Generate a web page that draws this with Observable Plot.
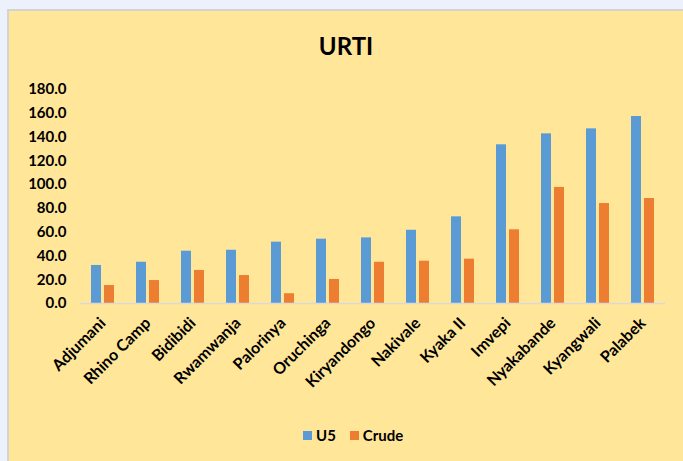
<!DOCTYPE html>
<html>
<head>
<meta charset="utf-8">
<script src="https://cdn.jsdelivr.net/npm/d3@7"></script>
<script src="https://cdn.jsdelivr.net/npm/@observablehq/plot@0.6"></script>
<style>
  html, body { margin: 0; padding: 0; background: #EDF1FB; }
  #wrap { position: absolute; left: 7px; top: 9px; width: 676px; height: 452px;
          background: #FFE699; border-left: 2px solid #D3D3D3; border-top: 2px solid #D3D3D3;
          font-family: Lato, "Open Sans", sans-serif; color: #000; overflow: hidden; }
  #title { position: absolute; left: 0; width: 674px; top: 23px; text-align: center;
           font-size: 24px; font-weight: bold; line-height: 1; }
  #chart { position: absolute; left: 0; top: 59px; }
  #chart [aria-label^="fx-axis"] text { font-size: 16px; }
  #legend { position: absolute; left: 294px; top: 417px; display: flex; align-items: center;
            font-size: 15px; font-weight: bold; line-height: 1; }
  .sw { width: 9px; height: 9px; display: inline-block; margin-right: 4px; }
  .item { display: flex; align-items: center; margin-right: 14px; }
</style>
</head>
<body>
<div id="wrap">
  <div id="title">URTI</div>
  <div id="chart"></div>
  <div id="legend"></div>
</div>
<script>
const categories = ["Adjumani", "Rhino Camp", "Bidibidi", "Rwamwanja", "Palorinya", "Oruchinga",
  "Kiryandongo", "Nakivale", "Kyaka II", "Imvepi", "Nyakabande", "Kyangwali", "Palabek"];
const u5 = [32.0, 34.7, 44.0, 44.8, 51.6, 54.1, 55.2, 61.6, 72.9, 133.5, 142.7, 146.9, 157.3];
const crude = [15.1, 19.3, 27.8, 23.5, 8.2, 20.2, 34.7, 35.6, 37.3, 62.0, 97.6, 84.1, 88.3];
const seriesNames = ["U5", "Crude"];
const seriesColors = ["#5B9BD5", "#ED7D31"];
const yTicks = [0, 20, 40, 60, 80, 100, 120, 140, 160, 180];

const rows = [];
categories.forEach((c, i) => {
  rows.push({site: c, series: "U5", value: u5[i]});
  rows.push({site: c, series: "Crude", value: crude[i]});
});

const chart = Plot.plot({
  width: 674,
  height: 333,
  marginTop: 19,
  marginBottom: 100,
  marginLeft: 66,
  marginRight: 13,
  style: {background: "transparent", fontFamily: "Lato, 'Open Sans', sans-serif", fontSize: "15px", fontWeight: "bold", color: "#000"},
  fx: {domain: categories, paddingInner: 0, paddingOuter: 0, label: null, tickRotate: -45, tickSize: 0, tickPadding: 17, axis: "bottom"},
  x: {domain: seriesNames, paddingInner: 0.222, paddingOuter: 0.806, axis: null},
  y: {domain: [0, 180], ticks: yTicks, tickFormat: d3.format(".1f"), tickSize: 0, tickPadding: 14, label: null, grid: false},
  color: {domain: seriesNames, range: seriesColors},
  facet: {data: rows, x: "site", marginBottom: 100},
  marks: [
    Plot.barY(rows, {x: "series", y: "value", fill: "series", inset: 0}),
    Plot.ruleY([0], {stroke: "#D9D9D9", strokeWidth: 1.5})
  ]
});
document.getElementById("chart").appendChild(chart);

const legend = document.getElementById("legend");
seriesNames.forEach((s, i) => {
  const item = document.createElement("div");
  item.className = "item";
  const sw = document.createElement("span");
  sw.className = "sw";
  sw.style.background = seriesColors[i];
  item.appendChild(sw);
  item.appendChild(document.createTextNode(s));
  legend.appendChild(item);
});
</script>
</body>
</html>
